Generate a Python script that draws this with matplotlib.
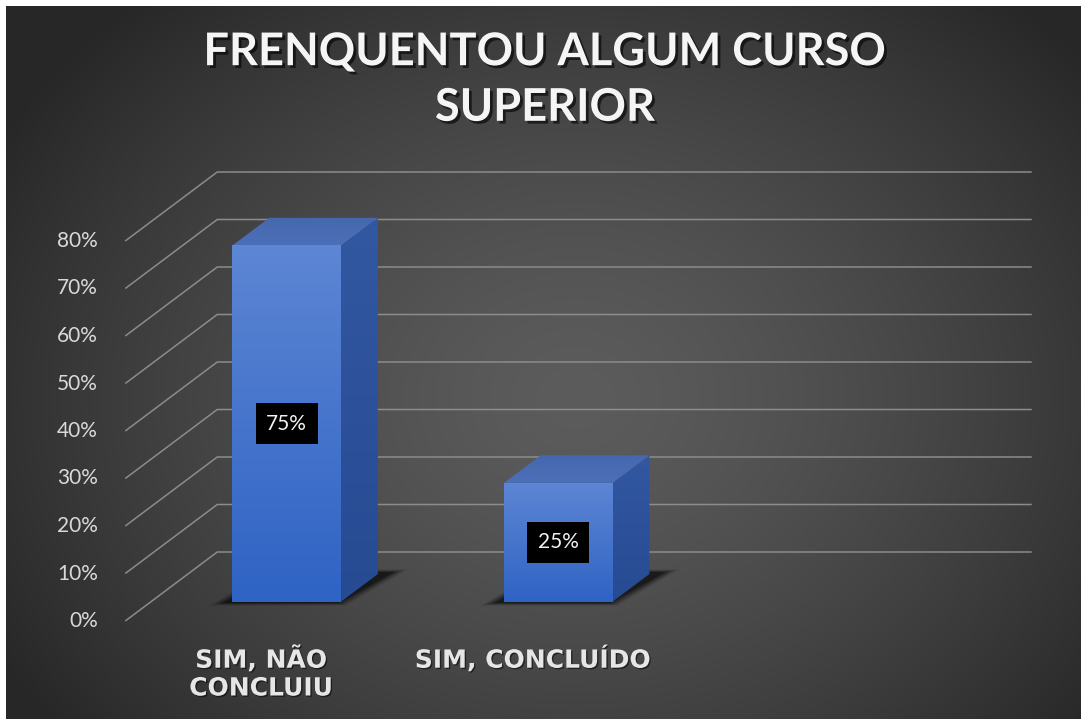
import numpy as np
import matplotlib.pyplot as plt
from matplotlib.patches import Polygon
from matplotlib import patheffects as pe

# dados do grafico
categorias = ["SIM, NÃO\nCONCLUIU", "SIM, CONCLUÍDO"]
valores = [0.75, 0.25]
rotulos = ["75%", "25%"]
ticks = [0.0, 0.1, 0.2, 0.3, 0.4, 0.5, 0.6, 0.7, 0.8]
tick_labels = ["0%", "10%", "20%", "30%", "40%", "50%", "60%", "70%", "80%"]
titulo = "FRENQUENTOU ALGUM CURSO\nSUPERIOR"
n_slots = 3  # excel deixou espaco para 3 categorias

W, H = 1081, 719
fig = plt.figure(figsize=(W / 100, H / 100), dpi=100)
fig.patch.set_facecolor("white")

# fundo com gradiente radial
bg = fig.add_axes([6 / W, 0, 1 - 6 / W, 1 - 6 / H])
bg.axis("off")
yy, xx = np.mgrid[0:1:300j, 0:1:450j]
r = np.sqrt(((xx - 0.53) / 0.62) ** 2 + ((yy - 0.55) / 0.75) ** 2)
r = np.clip(r, 0, 1) ** 1.4
c_in = np.array([0x5c, 0x5c, 0x5c]) / 255
c_out = np.array([0x27, 0x27, 0x27]) / 255
img = c_in[None, None, :] * (1 - r[..., None]) + c_out[None, None, :] * r[..., None]
bg.imshow(img, extent=[0, 1, 0, 1], origin="upper", aspect="auto")
bg.set_xlim(0, 1)
bg.set_ylim(0, 1)

# eixo principal: x em categorias, y em valor (plano da frente)
px_cat, x0_px = 271.5, 261
px_val, y0_px = 475, 621
ax = fig.add_axes([0, 0, 1, 1])
ax.set_xlim(-x0_px / px_cat, (W - x0_px) / px_cat)
ax.set_ylim((y0_px - H) / px_val, y0_px / px_val)
ax.axis("off")
ax.patch.set_alpha(0)

dx, dy = 92 / px_cat, 69 / px_val


def proj(x, v, z):
    return (x + z * dx, v + z * dy)


# grade (parede lateral + parede do fundo)
for t in ticks:
    pts = np.array([proj(-0.5, t, 0), proj(-0.5, t, 1), proj(n_slots - 0.5, t, 1)])
    ax.plot(pts[:, 0], pts[:, 1], color="#8c8c8c", lw=1.1, zorder=1,
            solid_capstyle="butt")

for t, lab in zip(ticks, tick_labels):
    ax.text(-0.5 - 0.1, t, lab, ha="right", va="center", color="#d9d9d9",
            fontsize=15, family="Lato")


def gradient_fill(poly_pts, c_top, c_bot, z):
    poly = Polygon(poly_pts, closed=True, fc="none", ec="none")
    ax.add_patch(poly)
    xs, ys = poly_pts[:, 0], poly_pts[:, 1]
    grad = np.linspace(0, 1, 100)[:, None]
    c_top = np.array(c_top) / 255
    c_bot = np.array(c_bot) / 255
    im = c_bot[None, None, :] * (1 - grad[..., None]) + c_top[None, None, :] * grad[..., None]
    im = np.repeat(im, 2, axis=1)
    h = ax.imshow(im, extent=[xs.min(), xs.max(), ys.min(), ys.max()],
                  origin="lower", aspect="auto", zorder=z)
    h.set_clip_path(poly)


hw = 0.2
z0, z1 = 0.28, 0.68
for i, (v, lab) in enumerate(zip(valores, rotulos)):
    xl, xr = i - hw, i + hw
    # sombra no chao (suave)
    for k, a in [(3, 0.12), (2, 0.18), (1, 0.25), (0, 0.35)]:
        e = 0.012 * k
        sh = [proj(xl - 0.03 - e, 0, z0 - 0.02 - e), proj(xr + 0.0 + e, 0, z0 - 0.02 - e),
              proj(xr + 0.05 + e, 0, z1 + 0.03 + e), proj(xl + 0.02 - e, 0, z1 + 0.03 + e)]
        ax.add_patch(Polygon(sh, closed=True, fc="black", ec="none", alpha=a, zorder=2))
    front = np.array([proj(xl, 0, z0), proj(xr, 0, z0), proj(xr, v, z0), proj(xl, v, z0)])
    side = np.array([proj(xr, 0, z0), proj(xr, 0, z1), proj(xr, v, z1), proj(xr, v, z0)])
    top = np.array([proj(xl, v, z0), proj(xr, v, z0), proj(xr, v, z1), proj(xl, v, z1)])
    gradient_fill(side, (0x33, 0x58, 0xa2), (0x26, 0x4b, 0x93), 3)
    gradient_fill(top, (0x45, 0x67, 0xae), (0x4c, 0x70, 0xb8), 3)
    gradient_fill(front, (0x5d, 0x86, 0xd4), (0x2f, 0x63, 0xc4), 4)
    cx, cy = proj(i, v / 2, z0)
    ax.text(cx, cy, lab, ha="center", va="center", color="#f2f2f2", fontsize=15,
            family="Lato", zorder=6,
            bbox=dict(boxstyle="square,pad=0.5", fc="black", ec="none"))

# rotulos das categorias
for i, cat in enumerate(categorias):
    ax.text(i, -0.052, cat, ha="center", va="top", color="#e6e6e6", fontsize=18,
            family="DejaVu Sans", weight="bold", linespacing=1.2,
            path_effects=[pe.withSimplePatchShadow(offset=(1, -1), shadow_rgbFace="black", alpha=0.5)])

fig.text(545 / W, 1 - 80 / H, titulo, ha="center", va="center", color="#f5f5f5",
         fontsize=32.5, family="Lato", weight="bold", linespacing=1.4,
         path_effects=[pe.withSimplePatchShadow(offset=(2, -2), shadow_rgbFace="black", alpha=0.6)])

fig.savefig("out.png", dpi=100)
